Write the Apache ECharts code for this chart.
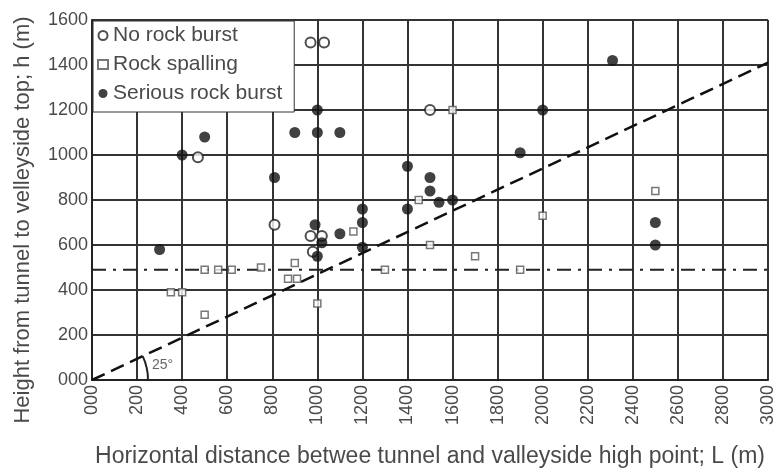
<!DOCTYPE html>
<html>
<head>
<meta charset="utf-8">
<script src="https://cdn.jsdelivr.net/npm/echarts@6/dist/echarts.min.js"></script>
<style>
  html, body { margin: 0; padding: 0; background: #fff; }
  #chart { width: 780px; height: 473px; }
</style>
</head>
<body>
<div id="chart"></div>
<script>
// points, [L, h]
const noBurst = [
  [970, 1500], [1030, 1500], [1500, 1200], [470, 990], [810, 690],
  [970, 640], [1020, 640], [980, 570]
];
const spalling = [
  [1600, 1200], [1450, 800], [1160, 660], [900, 520], [870, 450], [910, 450],
  [1000, 340], [1500, 600], [1700, 550], [1300, 490], [1900, 490], [750, 500],
  [500, 490], [560, 490], [620, 490], [350, 390], [400, 390], [500, 290],
  [2500, 840], [2000, 730]
];
const seriousBurst = [
  [2310, 1420], [1000, 1200], [2000, 1200], [500, 1080], [400, 1000],
  [900, 1100], [1000, 1100], [1100, 1100], [810, 900], [1900, 1010],
  [1400, 950], [1500, 900], [1500, 840], [1540, 790], [1600, 800],
  [1400, 760], [1200, 760], [1200, 700], [1100, 650], [990, 690],
  [1020, 610], [1000, 550], [1200, 590], [300, 580], [2500, 700], [2500, 600]
];
const angleLine = [[0, 0], [3000, 1410]];
const levelLine = [[0, 490], [3000, 490]];

const chart = echarts.init(document.getElementById('chart'));
const txt = '#4a4a4a';
const font = 'Liberation Sans';

const fmt = v => (v === 0 ? '000' : String(v));

chart.setOption({
  backgroundColor: '#fff',
  animation: false,
  textStyle: { fontFamily: font },
  grid: { left: 92, right: 12, top: 20, bottom: 93 },
  legend: {
    data: ['No rock burst', 'Rock spalling', 'Serious rock burst'],
    orient: 'vertical',
    left: 93, top: 21,
    padding: [4, 12, 8, 4],
    itemGap: 8,
    itemWidth: 10, itemHeight: 9,
    backgroundColor: '#fff',
    borderColor: '#333', borderWidth: 1,
    textStyle: { color: txt, fontSize: 21, fontFamily: font }
  },
  xAxis: {
    type: 'value', min: 0, max: 3000, interval: 200,
    name: 'Horizontal distance betwee tunnel and valleyside high point; L (m)',
    nameLocation: 'middle', nameGap: 65,
    nameTextStyle: { color: txt, fontSize: 23, fontFamily: font },
    axisLine: { show: true, lineStyle: { color: '#222', width: 2 } },
    axisTick: { show: false },
    axisLabel: { color: txt, fontSize: 18, rotate: 90, formatter: fmt, margin: 5 },
    splitLine: { show: true, lineStyle: { color: '#333', width: 2 } }
  },
  yAxis: {
    type: 'value', min: 0, max: 1600, interval: 200,
    name: 'Height from tunnel to velleyside top; h (m)',
    nameLocation: 'middle', nameGap: 58,
    nameTextStyle: { color: txt, fontSize: 22, fontFamily: font, padding: [0, 40, 0, 0] },
    axisLine: { show: true, lineStyle: { color: '#222', width: 2 } },
    axisTick: { show: false },
    axisLabel: { color: txt, fontSize: 18, formatter: fmt, margin: 4 },
    splitLine: { show: true, lineStyle: { color: '#333', width: 2 } }
  },
  series: [
    {
      name: 'angle', type: 'line', data: angleLine, symbol: 'none',
      lineStyle: { color: '#111', width: 2.5, type: [14, 7] }, z: 3
    },
    {
      name: 'level', type: 'line', data: levelLine, symbol: 'none',
      lineStyle: { color: '#222', width: 2, type: [14, 7, 3, 7] }, z: 3
    },
    {
      name: 'No rock burst', type: 'scatter', data: noBurst,
      symbol: 'circle', symbolSize: 10,
      itemStyle: { color: '#fff', borderColor: '#222', borderWidth: 2 }, z: 4
    },
    {
      name: 'Rock spalling', type: 'scatter', data: spalling,
      symbol: 'rect', symbolSize: 7,
      itemStyle: { color: '#fff', borderColor: '#555', borderWidth: 1.5 }, z: 4
    },
    {
      name: 'Serious rock burst', type: 'scatter', data: seriousBurst,
      symbol: 'circle', symbolSize: 11,
      itemStyle: { color: '#111' }, z: 5
    }
  ]
});

// 25 degree arc annotation at the origin
const o = chart.convertToPixel({ gridIndex: 0 }, [0, 0]);
const ang = Math.atan2(1410, 3000);
chart.setOption({
  graphic: [
    {
      type: 'arc', z: 10,
      shape: { cx: o[0], cy: o[1], r: 56, startAngle: -ang, endAngle: 0, clockwise: true },
      style: { stroke: '#222', lineWidth: 2, fill: null }
    },
    {
      type: 'text', z: 10, left: o[0] + 60, top: o[1] - 22,
      style: { text: '25°', fill: '#666', fontSize: 14, fontFamily: font }
    }
  ]
});
</script>
</body>
</html>
